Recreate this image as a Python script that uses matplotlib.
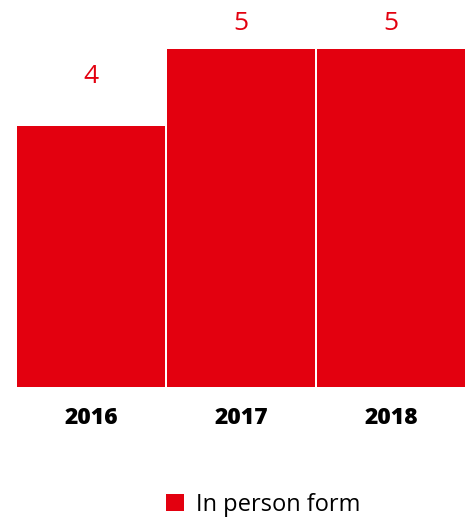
import matplotlib.pyplot as plt

# data
years = ['2016', '2017', '2018']
values = [4, 5, 5]
series_name = 'In person form'
red = '#e3000f'

plt.rcParams['font.family'] = ['Open Sans', 'DejaVu Sans']

fig = plt.figure(figsize=(4.66, 5.17), dpi=100)
ax = fig.add_axes([16 / 466, (517 - 386.7) / 517, 450 / 466, 386.7 / 517])

x = range(len(years))
bars = ax.bar(x, values, width=0.985, color=red, label=series_name)
ax.set_xlim(-0.5, len(years) - 0.5)
ymin, ymax = 0.63, 5.63
ax.set_ylim(ymin, ymax)

# value labels above bars, kept inside the plot area
for b, v in zip(bars, values):
    ax.text(b.get_x() + b.get_width() / 2, min(v + 0.635, ymax - 0.3), str(v),
            ha='center', va='center', color=red, fontsize=19)

ax.set_xticks(list(x))
ax.set_xticklabels(years, fontsize=16.5, fontweight='black')
ax.tick_params(axis='x', length=0, pad=14)
ax.set_yticks([])
for s in ax.spines.values():
    s.set_visible(False)

fig.legend(handles=[bars], labels=[series_name], loc='center',
           bbox_to_anchor=(263 / 466, (517 - 505) / 517), frameon=False, fontsize=17,
           handlelength=0.75, handleheight=0.75, handletextpad=0.5, borderpad=0)

fig.savefig('out.png', dpi=100)
